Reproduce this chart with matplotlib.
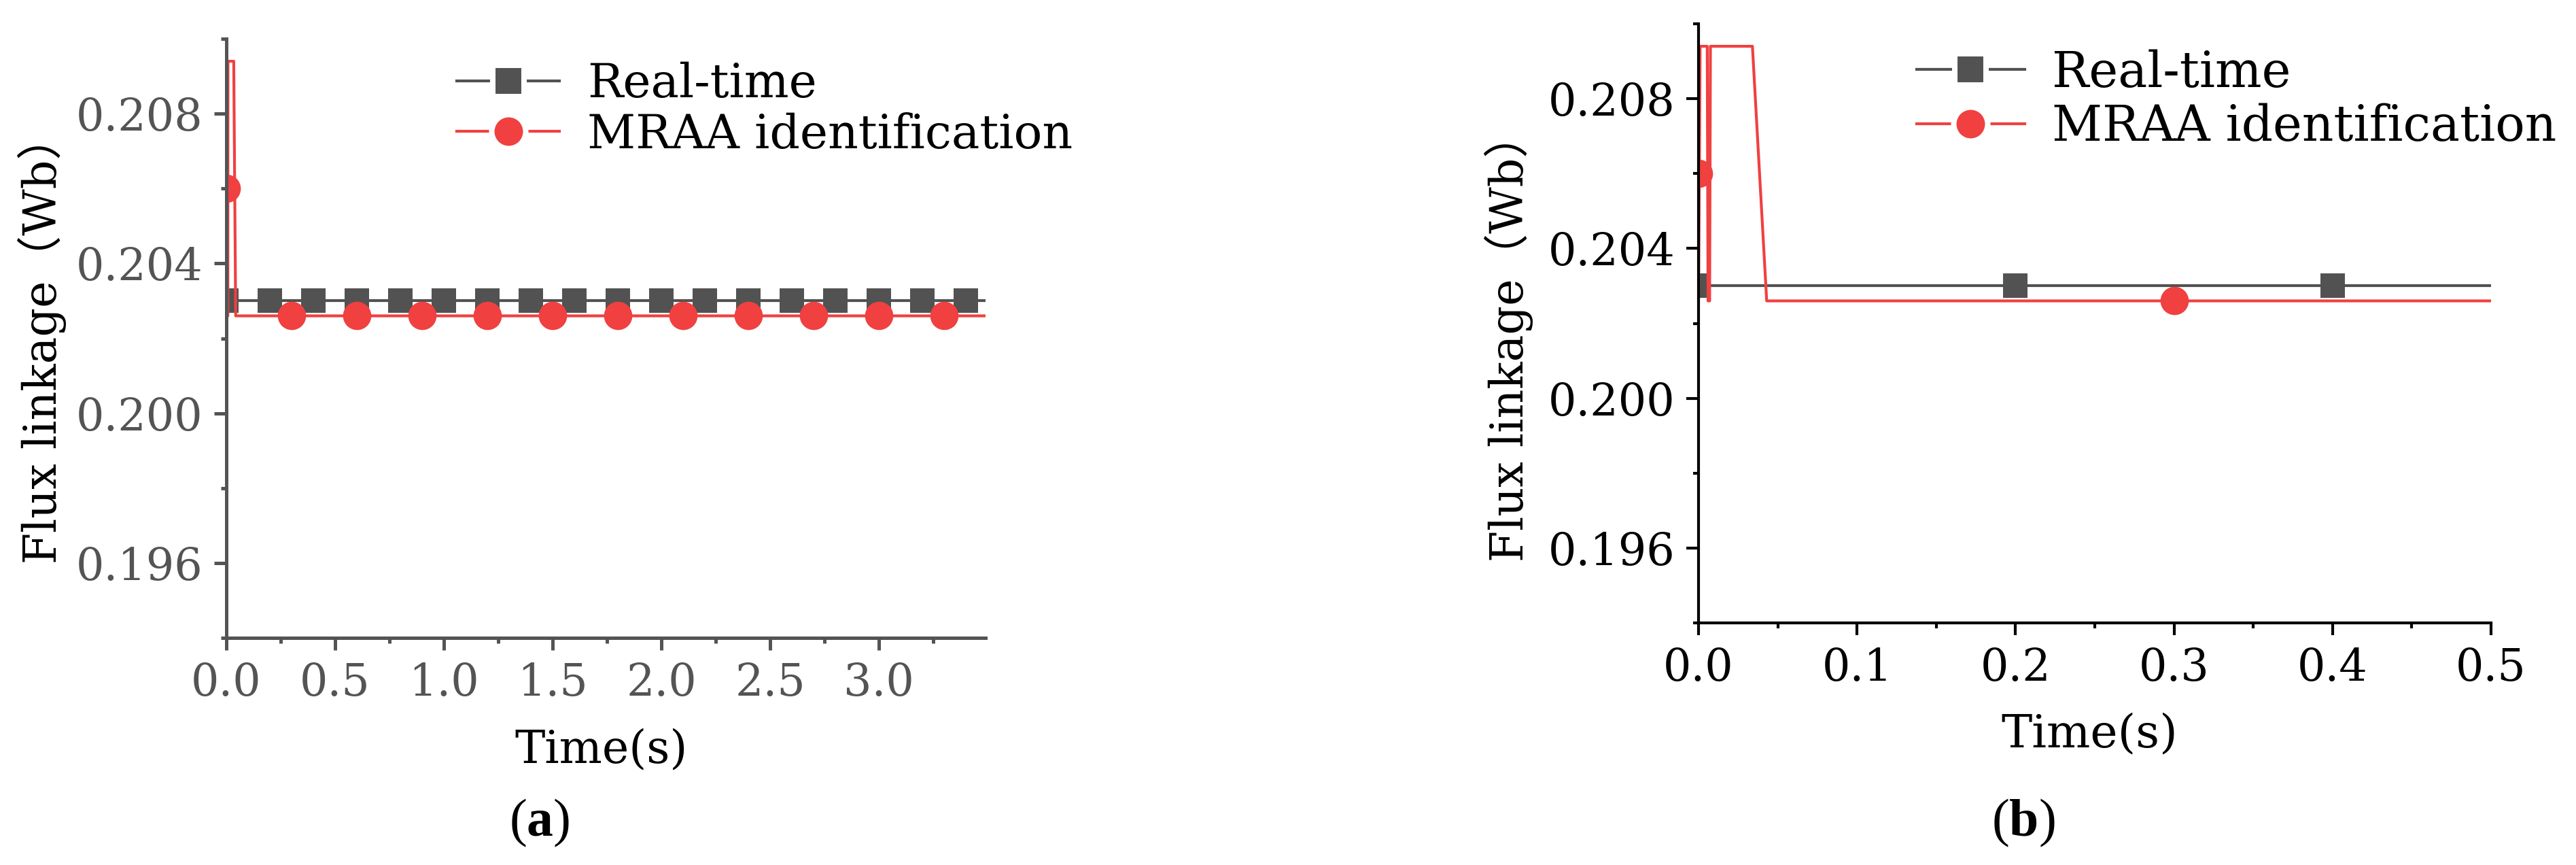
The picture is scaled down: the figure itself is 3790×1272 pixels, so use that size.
import matplotlib
matplotlib.use("Agg")
import matplotlib.pyplot as plt
from matplotlib.lines import Line2D
from matplotlib.ticker import FixedLocator, FormatStrFormatter

plt.rcParams['font.family'] = ['DejaVu Serif', 'Noto Sans CJK SC']
plt.rcParams['mathtext.fontset'] = 'custom'
plt.rcParams['mathtext.bf'] = 'Liberation Serif:bold'
plt.rcParams['mathtext.rm'] = 'Liberation Serif'

# ---- data ----
# real-time flux linkage (constant)
t_real_a = [0.0, 3.49]
flux_real_a = [0.203, 0.203]
t_real_b = [0.0, 0.5]
flux_real_b = [0.203, 0.203]
# MRAA identification trace
t_mraa_a = [0.0, 0.001, 0.0055, 0.006, 0.007, 0.0075, 0.034, 0.043, 3.49]
flux_mraa_a = [0.2026, 0.2094, 0.2094, 0.2026, 0.2026, 0.2094, 0.2094, 0.2026, 0.2026]
t_mraa_b = [0.0, 0.001, 0.0055, 0.006, 0.007, 0.0075, 0.034, 0.043, 0.5]
flux_mraa_b = [0.2026, 0.2094, 0.2094, 0.2026, 0.2026, 0.2094, 0.2094, 0.2026, 0.2026]
# marker points
t_sq_a = [0.0, 0.2, 0.4, 0.6, 0.8, 1.0, 1.2, 1.4, 1.6, 1.8, 2.0, 2.2, 2.4, 2.6, 2.8, 3.0, 3.2, 3.4]
flux_sq_a = [0.203] * len(t_sq_a)
t_ci_a = [0.0, 0.3, 0.6, 0.9, 1.2, 1.5, 1.8, 2.1, 2.4, 2.7, 3.0, 3.3]
flux_ci_a = [0.206, 0.2026, 0.2026, 0.2026, 0.2026, 0.2026, 0.2026, 0.2026, 0.2026, 0.2026, 0.2026, 0.2026]
t_sq_b = [0.0, 0.2, 0.4]
flux_sq_b = [0.203, 0.203, 0.203]
t_ci_b = [0.0, 0.3]
flux_ci_b = [0.206, 0.2026]

y_major = [0.196, 0.200, 0.204, 0.208]
y_minor = [0.194, 0.198, 0.202, 0.206, 0.210]
x_major_a = [0.0, 0.5, 1.0, 1.5, 2.0, 2.5, 3.0]
x_minor_a = [0.25, 0.75, 1.25, 1.75, 2.25, 2.75, 3.25]
x_major_b = [0.0, 0.1, 0.2, 0.3, 0.4, 0.5]
x_minor_b = [0.05, 0.15, 0.25, 0.35, 0.45]

labels = ['Real-time', 'MRAA identification']
c_real = '#525252'
c_mraa = '#F04040'

W, H = 3791, 1272
fig = plt.figure(figsize=(W / 100, H / 100), dpi=100)


def px_axes(l, r, t, b):
    return fig.add_axes([l / W, 1 - b / H, (r - l) / W, (b - t) / H])


def style(ax, col, xmaj, xmin, xlim, spw):
    ax.set_xlim(*xlim)
    ax.set_ylim(0.194, 0.210)
    for s in ['top', 'right']:
        ax.spines[s].set_visible(False)
    for s in ['left', 'bottom']:
        ax.spines[s].set_linewidth(spw)
        ax.spines[s].set_color(col)
    ax.yaxis.set_major_locator(FixedLocator(y_major))
    ax.yaxis.set_minor_locator(FixedLocator(y_minor))
    ax.xaxis.set_major_locator(FixedLocator(xmaj))
    ax.xaxis.set_minor_locator(FixedLocator(xmin))
    ax.yaxis.set_major_formatter(FormatStrFormatter('%.3f'))
    ax.xaxis.set_major_formatter(FormatStrFormatter('%.1f'))
    ax.tick_params(which='major', length=13, width=spw, color=col, labelcolor=col,
                   labelsize=47, direction='out')
    ax.tick_params(which='minor', length=6, width=spw, color=col, direction='out')
    ax.tick_params(axis='y', pad=12)
    ax.tick_params(axis='x', pad=12)


def draw(ax, tr, fr, tm, fm, tsq, fsq, tci, fci):
    ax.plot(tr, fr, color=c_real, lw=3)
    ax.plot(tsq, fsq, ls='none', marker='s', ms=26.5, mew=0, color=c_real)
    ax.plot(tm, fm, color=c_mraa, lw=3)
    ax.plot(tci, fci, ls='none', marker='o', ms=30, mew=0, color=c_mraa)


def legend(ax, x, y, fs, hl, pad):
    handles = [Line2D([], [], color=c_real, lw=3, marker='s', ms=33, mec='white', mew=5.8, mfc=c_real),
               Line2D([], [], color=c_mraa, lw=3, marker='o', ms=36, mec='white', mew=5.8, mfc=c_mraa)]
    ax.legend(handles, labels, loc='center left', bbox_to_anchor=(x / W, 1 - y / H),
              bbox_transform=fig.transFigure, frameon=False, fontsize=fs,
              handlelength=hl, handletextpad=pad, borderpad=0, borderaxespad=0,
              labelspacing=0.12)


# panel (a)
ax1 = px_axes(333, 1450, 57, 938)
draw(ax1, t_real_a, flux_real_a, t_mraa_a, flux_mraa_a, t_sq_a, flux_sq_a, t_ci_a, flux_ci_a)
style(ax1, '#545454', x_major_a, x_minor_a, (0, 3.49), 3.6)
legend(ax1, 672, 161, 50, 2.18, 0.58)

# panel (b)
ax2 = px_axes(2499, 3665, 35, 916)
draw(ax2, t_real_b, flux_real_b, t_mraa_b, flux_mraa_b, t_sq_b, flux_sq_b, t_ci_b, flux_ci_b)
style(ax2, 'black', x_major_b, x_minor_b, (0, 0.5), 3.0)
legend(ax2, 2820, 147, 52, 2.2, 0.55)

ylab = 'Flux linkage（Wb）'
fig.text(62 / W, 1 - 498 / H, ylab, rotation=90, ha='center', va='center', fontsize=48)
fig.text(2220 / W, 1 - 496 / H, ylab, rotation=90, ha='center', va='center', fontsize=48)
fig.text(885 / W, 1 - 1103 / H, 'Time(s)', ha='center', va='center', fontsize=48)
fig.text(3074 / W, 1 - 1080 / H, 'Time(s)', ha='center', va='center', fontsize=49)
fig.text(794 / W, 1 - 1210 / H, r'($\mathbf{a}$)', ha='center', va='center', fontsize=56,
         family='Liberation Serif')
fig.text(2977 / W, 1 - 1210 / H, r'($\mathbf{b}$)', ha='center', va='center', fontsize=56,
         family='Liberation Serif')

fig.savefig('out.png', dpi=100)
